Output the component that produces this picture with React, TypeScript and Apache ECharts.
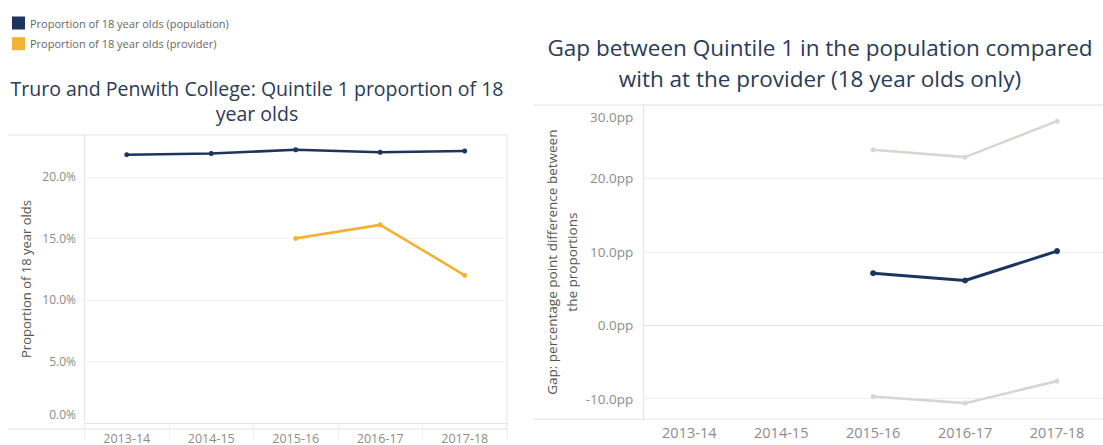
import React, { useEffect, useRef } from "react";
import * as echarts from "echarts";

const categories = ["2013-14", "2014-15", "2015-16", "2016-17", "2017-18"];
const populationShare = [21.8, 21.9, 22.2, 22.0, 22.1];
const providerShare = [null, null, 15.0, 16.1, 12.0];
const gapValues = [null, null, 7.1, 6.1, 10.1];
const gapUpper = [null, null, 23.9, 22.9, 27.8];
const gapLower = [null, null, -9.7, -10.6, -7.6];

const leftTitle = "Truro and Penwith College: Quintile 1 proportion of 18\nyear olds";
const rightTitle = "Gap between Quintile 1 in the population compared\nwith at the provider (18 year olds only)";
const legendNames = ["Proportion of 18 year olds (population)", "Proportion of 18 year olds (provider)"];

const FONT = "'Open Sans', 'Noto Sans', sans-serif";
const NAVY = "#1c355e";
const ORANGE = "#f2b233";
const GREY_LINE = "#d9d6d2";
const LABEL = "#8c8c8c";
const FRAME = "#e2e2e2";

// layout
const L = { left: 84.5, top: 135, width: 422.5, height: 294 };
const R = { left: 643.3, top: 105, width: 466.7, height: 314.3 };

export default function App() {
  const ref = useRef<HTMLDivElement>(null);
  useEffect(() => {
    if (!ref.current) return;
    const chart = echarts.init(ref.current, undefined, { renderer: "svg" });
    const lineStyle = (c: string) => ({ color: c, width: 2.6 });
    chart.setOption({
      animation: false,
      textStyle: { fontFamily: FONT },
      legend: {
        data: legendNames,
        orient: "vertical",
        left: 7,
        top: 11.5,
        icon: "rect",
        itemWidth: 13,
        itemHeight: 13,
        itemGap: 7.7,
        selectedMode: false,
        textStyle: { fontSize: 11, color: "#666", fontFamily: FONT },
      },
      grid: [
        { ...L, containLabel: false },
        { ...R, containLabel: false },
      ],
      xAxis: [
        {
          type: "category",
          gridIndex: 0,
          data: categories,
          boundaryGap: true,
          axisLine: { show: true, lineStyle: { color: FRAME, width: 1 } },
          axisTick: { show: true, length: 16, lineStyle: { color: "#efefef" } },
          axisLabel: { color: LABEL, fontSize: 12.5, margin: 9, fontFamily: FONT },
          splitLine: { show: false },
        },
        {
          type: "category",
          gridIndex: 1,
          data: categories,
          boundaryGap: true,
          axisLine: { show: true, lineStyle: { color: FRAME, width: 1 } },
          axisTick: { show: false },
          axisLabel: { color: LABEL, fontSize: 14.5, margin: 6, fontFamily: FONT },
          splitLine: { show: false },
        },
      ],
      yAxis: [
        {
          type: "value",
          gridIndex: 0,
          min: 0,
          max: 23.4,
          interval: 5,
          name: "Proportion of 18 year olds",
          nameLocation: "middle",
          nameRotate: 90,
          nameGap: 52.5,
          nameTextStyle: { fontSize: 13, color: "#555", fontFamily: FONT },
          axisLine: { show: true, lineStyle: { color: FRAME, width: 1 } },
          axisTick: { show: false },
          axisLabel: {
            color: LABEL,
            fontSize: 12,
            margin: 8.5,
            showMaxLabel: false,
            fontFamily: FONT,
            formatter: (v: number) => (v === 0 ? "{b|0.0%}" : v.toFixed(1) + "%"),
            rich: { b: { color: LABEL, fontSize: 12, fontFamily: FONT, padding: [0, 0, 18, 0] } },
          },
          splitLine: { show: true, lineStyle: { color: "#f3f3f3", width: 1 } },
        },
        {
          type: "value",
          gridIndex: 1,
          min: -12.8,
          max: 30,
          splitNumber: 5,
          name: "Gap: percentage point difference between\nthe proportions",
          nameLocation: "middle",
          nameRotate: 90,
          nameGap: 60,
          nameTextStyle: { fontSize: 13.5, color: "#555", lineHeight: 20, fontFamily: FONT },
          axisLine: { show: true, lineStyle: { color: FRAME, width: 1 } },
          axisTick: { show: false },
          axisLabel: {
            color: LABEL,
            fontSize: 13.5,
            margin: 10,
            showMinLabel: false,
            fontFamily: FONT,
            formatter: (v: number) => (v === 30 ? "{t|30.0pp}" : v.toFixed(1) + "pp"),
            rich: { t: { color: LABEL, fontSize: 13.5, fontFamily: FONT, padding: [23, 0, 0, 0] } },
          },
          splitLine: { show: true, lineStyle: { color: "#efefef", width: 1 } },
        },
      ],
      series: [
        {
          name: legendNames[0],
          type: "line",
          xAxisIndex: 0,
          yAxisIndex: 0,
          data: populationShare,
          symbol: "circle",
          symbolSize: 5,
          lineStyle: lineStyle(NAVY),
          itemStyle: { color: NAVY },
        },
        {
          name: legendNames[1],
          type: "line",
          xAxisIndex: 0,
          yAxisIndex: 0,
          data: providerShare,
          symbol: "circle",
          symbolSize: 5,
          lineStyle: lineStyle(ORANGE),
          itemStyle: { color: ORANGE },
        },
        {
          name: "Upper bound",
          type: "line",
          xAxisIndex: 1,
          yAxisIndex: 1,
          data: gapUpper,
          symbol: "circle",
          symbolSize: 5,
          lineStyle: lineStyle(GREY_LINE),
          itemStyle: { color: GREY_LINE },
        },
        {
          name: "Lower bound",
          type: "line",
          xAxisIndex: 1,
          yAxisIndex: 1,
          data: gapLower,
          symbol: "circle",
          symbolSize: 5,
          lineStyle: lineStyle(GREY_LINE),
          itemStyle: { color: GREY_LINE },
        },
        {
          name: "Gap",
          type: "line",
          xAxisIndex: 1,
          yAxisIndex: 1,
          data: gapValues,
          symbol: "circle",
          symbolSize: 6,
          lineStyle: { color: NAVY, width: 3 },
          itemStyle: { color: NAVY },
        },
      ],
      graphic: [
        {
          type: "text",
          x: 257,
          y: 100.5,
          style: {
            text: leftTitle,
            fontSize: 19.5,
            lineHeight: 25,
            fontFamily: FONT,
            fill: "#2b3a56",
            align: "center",
            verticalAlign: "middle",
          },
        },
        {
          type: "text",
          x: 820,
          y: 62.5,
          style: {
            text: rightTitle,
            fontSize: 22.5,
            lineHeight: 31,
            fontFamily: FONT,
            fill: "#2b3a56",
            align: "center",
            verticalAlign: "middle",
          },
        },
        { type: "line", shape: { x1: 8, y1: L.top, x2: L.left + L.width, y2: L.top }, style: { stroke: FRAME, lineWidth: 1 } },
        { type: "line", shape: { x1: 8, y1: L.top + L.height, x2: L.left + L.width, y2: L.top + L.height }, style: { stroke: FRAME, lineWidth: 1 } },
        { type: "line", shape: { x1: L.left + L.width, y1: L.top, x2: L.left + L.width, y2: L.top + L.height }, style: { stroke: FRAME, lineWidth: 1 } },
        { type: "line", shape: { x1: 533, y1: R.top, x2: 1103, y2: R.top }, style: { stroke: FRAME, lineWidth: 1 } },
        { type: "line", shape: { x1: 533, y1: R.top + R.height, x2: 1103, y2: R.top + R.height }, style: { stroke: FRAME, lineWidth: 1 } },
      ],
    });
    return () => chart.dispose();
  }, []);
  return (
    <div
      ref={ref}
      style={{ position: "absolute", left: 0, top: 0, width: 1103, height: 445, background: "#fff" }}
    />
  );
}
